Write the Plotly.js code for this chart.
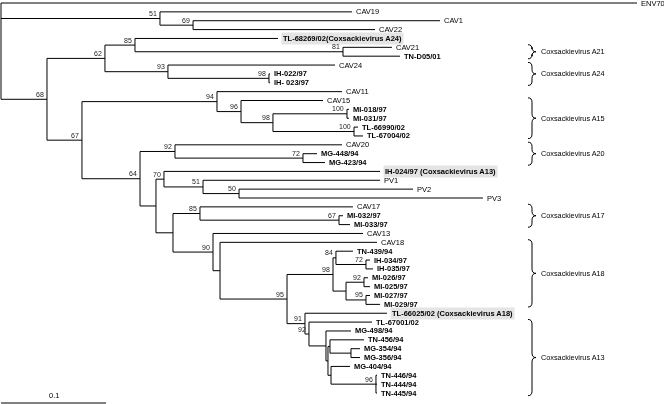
<!DOCTYPE html>
<html>
<head>
<meta charset="utf-8">
<script src="https://cdn.plot.ly/plotly-3.0.1.min.js"></script>
<style>html,body{margin:0;padding:0;background:#fff;}#chart{width:664px;height:404px;filter:grayscale(100%);}</style>
</head>
<body>
<div id="chart"></div>
<script>
// ---- Leaves (top to bottom) ----
const leafNames = [
  "ENV70","CAV19","CAV1","CAV22","TL-68269/02(Coxsackievirus A24)","CAV21","TN-D05/01","CAV24",
  "IH-022/97","IH- 023/97","CAV11","CAV15","MI-018/97","MI-031/97","TL-66990/02","TL-67004/02",
  "CAV20","MG-448/94","MG-423/94","IH-024/97 (Coxsackievirus A13)","PV1","PV2","PV3","CAV17",
  "MI-032/97","MI-033/97","CAV13","CAV18","TN-439/94","IH-034/97","IH-035/97","MI-026/97",
  "MI-025/97","MI-027/97","MI-029/97","TL-66025/02 (Coxsackievirus A18)","TL-67001/02","MG-498/94",
  "TN-456/94","MG-354/94","MG-356/94","MG-404/94","TN-446/94","TN-444/94","TN-445/94"
];
// distance from root (substitutions/site)
const leafDepth = [
  0.6057,0.3343,0.4181,0.3562,0.2638,0.3724,0.3800,0.3181,
  0.2562,0.2562,0.3248,0.3067,0.3314,0.3314,0.3400,0.3448,
  0.3248,0.3010,0.3086,0.3610,0.3610,0.3924,0.4590,0.3352,
  0.3257,0.3324,0.3448,0.3581,0.3352,0.3514,0.3543,0.3495,
  0.3514,0.3514,0.3610,0.3676,0.3533,0.3333,
  0.3457,0.3419,0.3419,0.3324,0.3581,0.3581,0.3581
];
const leafParent = [
  0,1,2,2,5,6,6,7,
  8,8,10,11,13,13,14,14,
  16,17,17,19,20,21,21,23,
  24,24,25,26,29,30,30,32,
  32,33,33,34,35,36,
  38,39,39,40,41,41,41
];
// ---- Internal nodes ----
const nodeParent = [-1,0,1,0,3,4,5,4,7,3,9,10,11,12,12,9,15,16,15,18,19,20,18,22,23,22,25,26,27,28,29,28,31,31,27,34,35,36,37,38,37,40];
const nodeDepth = [
  0.0000,0.1514,0.1829,0.0438,0.0990,0.1276,0.3257,0.1590,0.2552,0.0771,
  0.2057,0.2286,0.2590,0.3295,0.3362,0.1324,0.1657,0.2876,0.1476,0.1552,
  0.1924,0.2267,0.1638,0.1895,0.3219,0.2019,0.2086,0.2724,0.3162,0.3190,
  0.3476,0.3286,0.3457,0.3476,0.2895,0.2933,0.3095,0.3114,0.3133,0.3333,
  0.3143,0.3571
];
const nodeSupport = [
  "","51","69","68","62","85","81","93","98","67",
  "94","96","98","100","100","64","92","72","","70",
  "51","50","","85","67","90","","95","98","84",
  "72","","92","95","91","92","","","","",
  "","96"
];
// ---- Clade brackets ----
const cladeNames = ["Coxsackievirus A21","Coxsackievirus A24","Coxsackievirus A15","Coxsackievirus A20","Coxsackievirus A17","Coxsackievirus A18","Coxsackievirus A13"];
const cladeFirst = ["CAV21","CAV24","CAV15","CAV20","CAV17","CAV18","TL-67001/02"];
const cladeLast  = ["TN-D05/01","IH- 023/97","TL-67004/02","MG-423/94","MI-033/97","MI-029/97","TN-445/94"];
const scaleValue = 0.1;

// ---- layout geometry ----
const W = 664, H = 404;
const pxPerUnit = 1050, x0px = 1;
const rowPx = 8.864, row0px = 3;
const xr = [-x0px/pxPerUnit, (W - x0px)/pxPerUnit];
const yr = [(H - row0px)/rowPx, -row0px/rowPx];
const pxX = p => (p - x0px)/pxPerUnit;
const pxY = p => (p - row0px)/rowPx;

// compute node y positions
const nN = nodeDepth.length;
const childY = Array.from({length:nN}, () => []);
leafNames.forEach((n,i) => childY[leafParent[i]].push(i));
const nodeY = new Array(nN);
const nodeMin = new Array(nN), nodeMax = new Array(nN);
for (let k = nN - 1; k >= 0; k--) {
  const ys = childY[k];
  nodeMin[k] = Math.min(...ys); nodeMax[k] = Math.max(...ys);
  nodeY[k] = (nodeMin[k] + nodeMax[k]) / 2;
  if (nodeParent[k] >= 0) childY[nodeParent[k]].push(nodeY[k]);
}

const lx = [], ly = [];
function seg(a,b,c,d){ lx.push(a,c,null); ly.push(b,d,null); }
leafNames.forEach((n,i) => seg(nodeDepth[leafParent[i]], i, leafDepth[i], i));
for (let k = 0; k < nN; k++) {
  seg(nodeDepth[k], nodeMin[k], nodeDepth[k], nodeMax[k]);
  if (nodeParent[k] >= 0) seg(nodeDepth[nodeParent[k]], nodeY[k], nodeDepth[k], nodeY[k]);
}

const FONT = "Arial, 'Liberation Sans', sans-serif";
const TXT = '#000';
const annotations = [];
const isRef = n => /^(CAV|PV|ENV)/.test(n);
leafNames.forEach((n,i) => {
  const hl = n.indexOf("(Coxsackievirus") >= 0;
  annotations.push({
    x: leafDepth[i], y: i, xref:'x', yref:'y', text: isRef(n) ? n : '<b>' + n + '</b>',
    showarrow:false, xanchor:'left', yanchor:'middle', xshift: 3,
    font:{family:FONT, size:7.5, color:TXT},
    bgcolor: hl ? '#e4e4e4' : 'rgba(0,0,0,0)', borderpad: hl ? 1 : 0
  });
});
nodeSupport.forEach((s,k) => {
  if (!s) return;
  annotations.push({
    x: nodeDepth[k], y: nodeY[k], xref:'x', yref:'y', text: s, showarrow:false,
    xanchor:'right', yanchor:'middle', xshift:-1, yshift:5,
    font:{family:FONT, size:7, color:'#222'}
  });
});

const shapes = [];
const bx0 = pxX(528), bw = 8/pxPerUnit, r = 0.5;
cladeNames.forEach((c,j) => {
  const y0 = leafNames.indexOf(cladeFirst[j]) - 0.3;
  const y1 = leafNames.indexOf(cladeLast[j]) + 0.3;
  const ym = (y0 + y1) / 2;
  const xm = bx0 + bw/2, xt = bx0 + bw;
  const path = `M ${bx0},${y0} Q ${xm},${y0} ${xm},${y0+r} L ${xm},${ym-r} Q ${xm},${ym} ${xt},${ym} Q ${xm},${ym} ${xm},${ym+r} L ${xm},${y1-r} Q ${xm},${y1} ${bx0},${y1}`;
  shapes.push({type:'path', xref:'x', yref:'y', path, line:{color:'#000', width:1}});
  annotations.push({
    x: xt, y: ym, xref:'x', yref:'y', text: c, showarrow:false, xanchor:'left', yanchor:'middle',
    xshift: 3, font:{family:FONT, size:7.3, color:TXT}
  });
});
// scale bar
shapes.push({type:'line', xref:'x', yref:'y', x0:0, x1:scaleValue, y0:pxY(403), y1:pxY(403), line:{color:'#000', width:1}});
annotations.push({x: scaleValue/2, y: pxY(395), xref:'x', yref:'y', text: String(scaleValue), showarrow:false,
  xanchor:'center', yanchor:'middle', font:{family:FONT, size:7.5, color:TXT}});

const trace = {x: lx, y: ly, type:'scatter', mode:'lines', line:{color:'#000', width:1}, hoverinfo:'skip', cliponaxis:false};
const layout = {
  width: W, height: H, margin:{l:0,r:0,t:0,b:0}, paper_bgcolor:'#fff', plot_bgcolor:'#fff',
  showlegend:false,
  xaxis:{range: xr, visible:false, fixedrange:true},
  yaxis:{range: yr, visible:false, fixedrange:true},
  annotations, shapes
};
Plotly.newPlot('chart', [trace], layout, {displayModeBar:false, staticPlot:true});
</script>
</body>
</html>
